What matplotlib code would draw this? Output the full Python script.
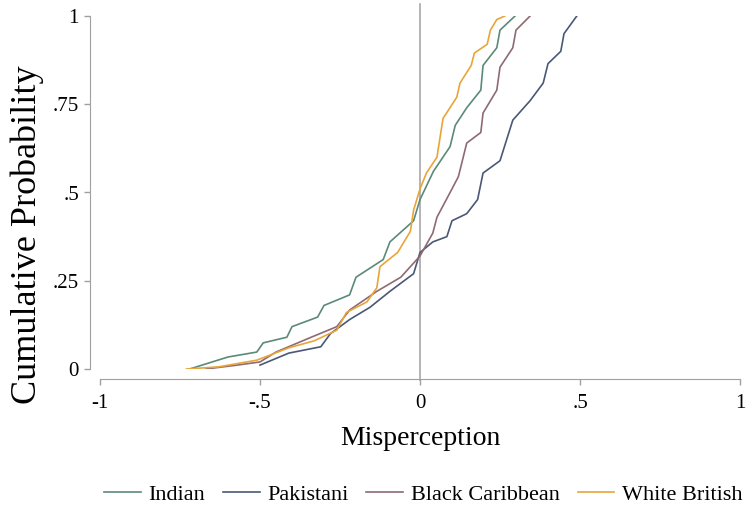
import matplotlib.pyplot as plt

plt.rcParams['font.family'] = ['Liberation Serif', 'DejaVu Serif']

groups = ['Indian', 'Pakistani', 'Black Caribbean', 'White British']
colors = ['#5b8a78', '#4a5876', '#8e6a72', '#e8a53a']

# misperception (x) and cumulative probability (y)
indian_x = [-0.72, -0.66, -0.60, -0.51, -0.49, -0.416, -0.40, -0.32, -0.30, -0.22, -0.20,
            -0.115, -0.094, -0.02, 0.0, 0.042, 0.094, 0.11, 0.146, 0.19, 0.197, 0.24, 0.25, 0.297]
indian_y = [0.0, 0.017, 0.034, 0.048, 0.074, 0.09, 0.12, 0.147, 0.18, 0.21, 0.26,
            0.31, 0.36, 0.42, 0.48, 0.56, 0.63, 0.69, 0.74, 0.79, 0.86, 0.91, 0.96, 1.0]

pakistani_x = [-0.5, -0.41, -0.31, -0.28, -0.22, -0.156, -0.094, -0.02, 0.0, 0.04, 0.084,
               0.10, 0.146, 0.18, 0.197, 0.25, 0.29, 0.344, 0.385, 0.40, 0.44, 0.45, 0.49]
pakistani_y = [0.011, 0.045, 0.063, 0.10, 0.14, 0.175, 0.22, 0.27, 0.33, 0.36, 0.375,
               0.42, 0.44, 0.48, 0.555, 0.59, 0.705, 0.76, 0.81, 0.865, 0.90, 0.95, 1.0]

caribbean_x = [-0.67, -0.58, -0.5, -0.45, -0.34, -0.26, -0.22, -0.135, -0.06, 0.0, 0.04,
               0.053, 0.094, 0.12, 0.146, 0.19, 0.197, 0.24, 0.25, 0.29, 0.30, 0.344]
caribbean_y = [0.0, 0.01, 0.02, 0.048, 0.09, 0.12, 0.167, 0.22, 0.26, 0.32, 0.385,
               0.43, 0.5, 0.545, 0.64, 0.67, 0.725, 0.79, 0.855, 0.91, 0.96, 1.0]

british_x = [-0.73, -0.63, -0.51, -0.41, -0.33, -0.26, -0.23, -0.166, -0.135, -0.125,
             -0.07, -0.03, -0.02, 0.0, 0.02, 0.053, 0.072, 0.115, 0.125, 0.16, 0.17, 0.21,
             0.22, 0.24, 0.265]
british_y = [0.0, 0.006, 0.025, 0.06, 0.08, 0.11, 0.16, 0.19, 0.23, 0.29,
             0.33, 0.39, 0.45, 0.51, 0.555, 0.60, 0.71, 0.77, 0.81, 0.86, 0.895, 0.92,
             0.96, 0.99, 1.0]

series = [(indian_x, indian_y), (pakistani_x, pakistani_y),
          (caribbean_x, caribbean_y), (british_x, british_y)]

fig = plt.figure(figsize=(7.51, 5.07), dpi=100)
ax = fig.add_axes([100 / 751, 138 / 507, 640 / 751, 353 / 507])

ax.axvline(0, ymin=-0.03, ymax=1.035, color='#a8a8a8', lw=1.2, clip_on=False, zorder=1)

for (xs, ys), name, c in zip(series, groups, colors):
    ax.plot(xs, ys, color=c, lw=1.2, label=name, zorder=2)

ax.set_xlim(-1, 1)
ax.set_ylim(0, 1)
ax.set_xticks([-1, -0.5, 0, 0.5, 1])
ax.set_xticklabels(['-1', '-.5', '0', '.5', '1'])
ax.set_yticks([0, 0.25, 0.5, 0.75, 1])
ax.set_yticklabels(['0', '.25', '.5', '.75', '1'])

for side in ['top', 'right']:
    ax.spines[side].set_visible(False)
for side in ['left', 'bottom']:
    ax.spines[side].set_position(('outward', 7.2))
    ax.spines[side].set_color('#a0a0a0')
ax.tick_params(colors='#a0a0a0', labelcolor='black', labelsize=15, length=4.5, width=1)
ax.tick_params(axis='x', pad=6.5)

ax.set_xlabel('Misperception', fontsize=20, labelpad=9)
ax.set_ylabel('Cumulative Probability', fontsize=26)
ax.yaxis.set_label_coords(-0.087, 0.38)

ax.legend(loc='upper center', bbox_to_anchor=(0.505, -0.27), ncol=4, frameon=False,
          fontsize=16, handlelength=1.65, columnspacing=0.8, handletextpad=0.35)

fig.savefig('out.png', dpi=100)
